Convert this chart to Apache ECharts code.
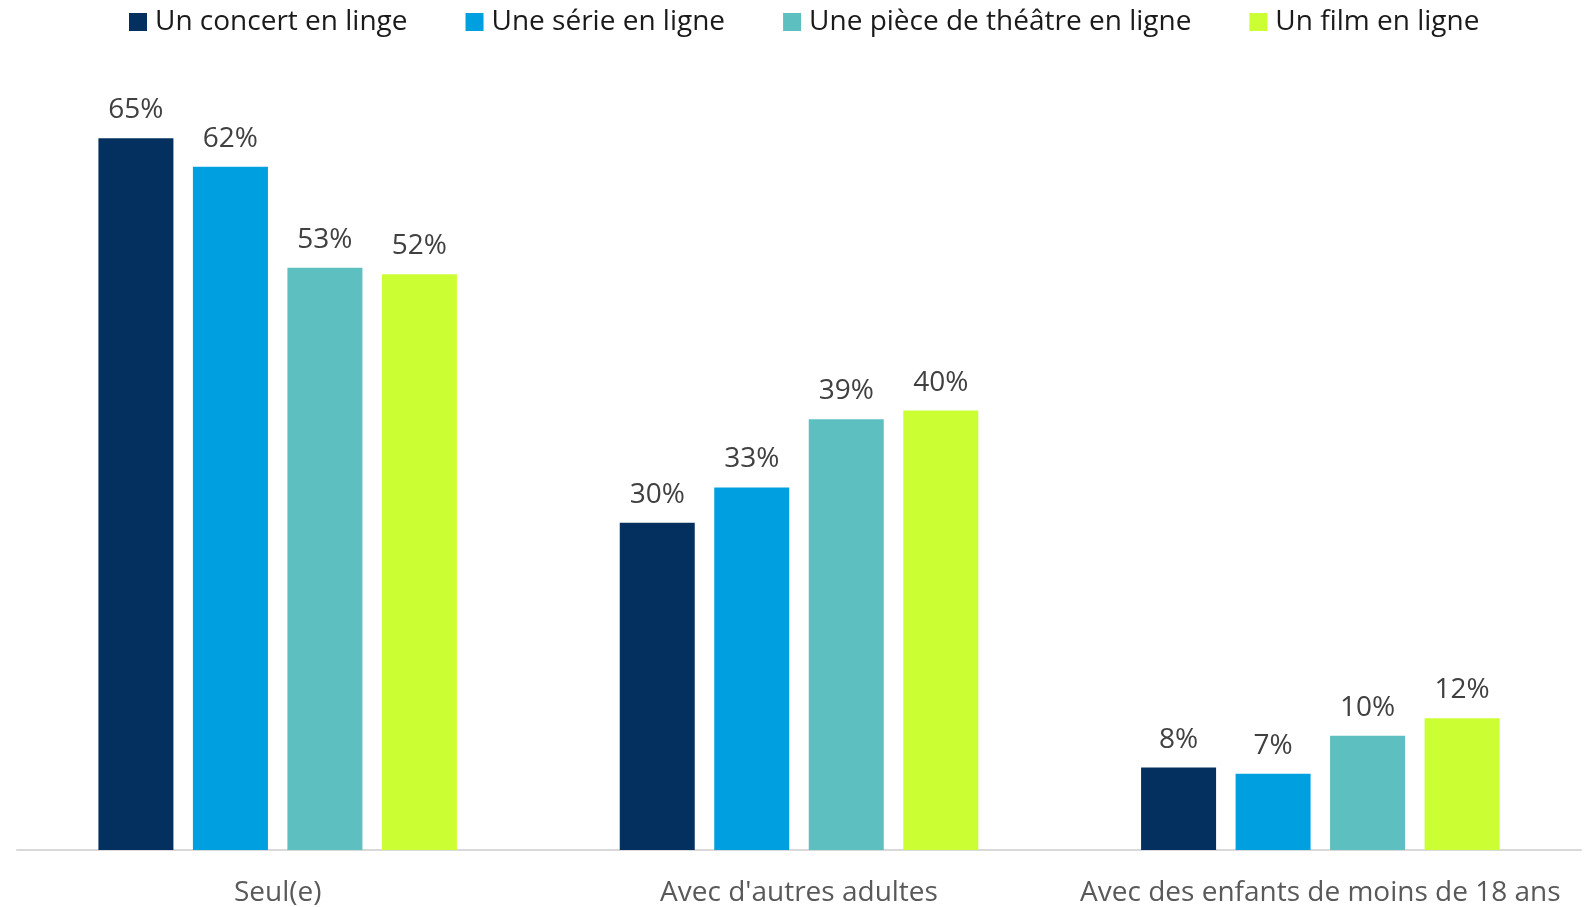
<!DOCTYPE html>
<html>
<head>
<meta charset="utf-8">
<script src="https://cdn.jsdelivr.net/npm/echarts@6/dist/echarts.min.js"></script>
<style>
html,body{margin:0;padding:0;background:#fff;}
#chart{width:1588px;height:907px;}
</style>
</head>
<body>
<div id="chart"></div>
<script>
const categories = ["Seul(e)", "Avec d'autres adultes", "Avec des enfants de moins de 18 ans"];
const seriesNames = ["Un concert en linge", "Une série en ligne", "Une pièce de théâtre en ligne", "Un film en ligne"];
const concert = [64.8, 29.8, 7.5];
const serie = [62.2, 33.0, 6.95];
const theatre = [53.0, 39.2, 10.4];
const film = [52.4, 40.0, 12.0];
const labelTexts = [
  ["65%", "30%", "8%"],
  ["62%", "33%", "7%"],
  ["53%", "39%", "10%"],
  ["52%", "40%", "12%"]
];
const colors = ["#03305f", "#009fe0", "#5dbfc0", "#ccff33"];
const FONT = '"Open Sans", sans-serif';

const values = [concert, serie, theatre, film];
const chart = echarts.init(document.getElementById('chart'));
chart.setOption({
  animation: false,
  color: colors,
  legend: {
    top: 3,
    left: 124,
    itemWidth: 18,
    itemHeight: 18,
    itemGap: 58,
    icon: 'rect',
    textStyle: {fontFamily: FONT, fontSize: 28, color: '#1a1a1a', padding: [0, 0, 0, 3]},
    data: seriesNames
  },
  grid: {left: 17, right: 7, top: 81, bottom: 56, containLabel: false},
  xAxis: {
    type: 'category',
    data: categories,
    axisLine: {lineStyle: {color: '#d9d9d9', width: 2}},
    axisTick: {show: false},
    axisLabel: {interval: 0, fontFamily: FONT, fontSize: 28, color: '#595959', margin: 29}
  },
  yAxis: {
    type: 'value', min: 0, max: 70, show: false, splitLine: {show: false}
  },
  series: values.map((v, i) => ({
    name: seriesNames[i],
    type: 'bar',
    data: v,
    barWidth: 75,
    barGap: '26%',
    itemStyle: {color: colors[i]},
    label: {
      show: true, position: 'top', distance: 14,
      fontFamily: FONT, fontSize: 28, color: '#404040',
      formatter: p => labelTexts[i][p.dataIndex]
    }
  }))
});
</script>
</body>
</html>
